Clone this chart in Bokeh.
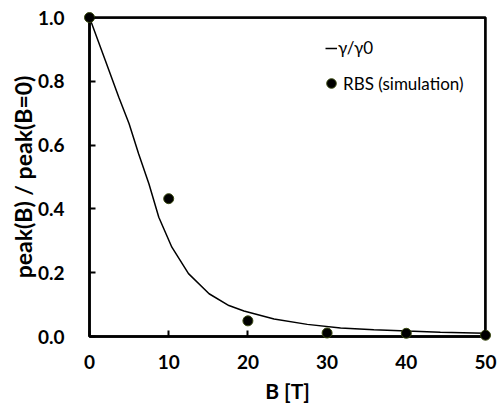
from bokeh.plotting import figure
from bokeh.models import Range1d, SingleIntervalTicker, PrintfTickFormatter, Legend, LegendItem, Span
from bokeh.embed import file_html
from bokeh.resources import INLINE

# gamma/gamma0 curve
curve_B = [0, 2.0, 3.7, 5.0, 6.2, 7.5, 8.75, 10.4, 12.5, 15.1, 17.6, 19.5, 23.3, 27.5, 31.7, 35.9, 40.1, 44.3, 50]
curve_y = [1.0, 0.865, 0.75, 0.667, 0.573, 0.479, 0.374, 0.28, 0.197, 0.134, 0.097, 0.08, 0.055, 0.038, 0.027, 0.021, 0.017, 0.0135, 0.010]

# RBS simulation points
rbs_B = [0, 10, 20, 30, 40, 50]
rbs_y = [1.0, 0.432, 0.049, 0.011, 0.010, 0.004]

x_min, x_max = 0, 50
y_min, y_max = 0, 1
x_ticks_step = 10
y_ticks_step = 0.2
x_label = "B [T]"
y_label = "peak(B) / peak(B=0)"
legend_line = "γ/γ0"
legend_pts = "RBS (simulation)"

FONT = "Lato"

p = figure(width=498, height=406, output_backend="svg", toolbar_location=None,
           x_range=Range1d(x_min, x_max), y_range=Range1d(y_min, y_max),
           min_border_left=89, min_border_right=13, min_border_top=17, min_border_bottom=70)

p.grid.visible = False
p.outline_line_color = "black"
p.outline_line_width = 2.5
p.background_fill_color = "white"
p.border_fill_color = "white"

p.xaxis.ticker = SingleIntervalTicker(interval=x_ticks_step)
p.yaxis.ticker = SingleIntervalTicker(interval=y_ticks_step)
p.yaxis.formatter = PrintfTickFormatter(format="%.1f")

for ax in (p.xaxis, p.yaxis):
    ax.axis_line_width = 2.5
    ax.axis_line_color = "black"
    ax.major_tick_in = 6
    ax.major_tick_out = 0
    ax.major_tick_line_width = 2
    ax.minor_tick_line_color = None
    ax.major_label_text_font = FONT
    ax.major_label_text_font_style = "bold"
    ax.major_label_text_font_size = "19px"
    ax.major_label_text_color = "black"
    ax.axis_label_text_font = FONT
    ax.axis_label_text_font_style = "bold"
    ax.axis_label_text_color = "black"

p.xaxis.axis_label_text_font_size = "21px"
p.yaxis.axis_label_text_font_size = "23px"
p.xaxis.axis_label = x_label
p.yaxis.axis_label = y_label
p.xaxis.major_label_standoff = 14
p.yaxis.major_label_standoff = 21
p.xaxis.axis_label_standoff = 6
p.yaxis.axis_label_standoff = -2

# top and right frame lines
p.add_layout(Span(location=y_max, dimension="width", line_color="black", line_width=2.5, level="overlay"))
p.add_layout(Span(location=x_max, dimension="height", line_color="black", line_width=2.5, level="overlay"))

r_line = p.line(curve_B, curve_y, line_color="black", line_width=1.5)
r_pts = p.scatter(rbs_B, rbs_y, size=10, fill_color="black", line_color="#3a4a10", line_width=1,
                  level="overlay")

def make_legend(items, loc, gw, gh, standoff):
    lg = Legend(items=items, location=loc, orientation="vertical")
    lg.border_line_color = None
    lg.background_fill_alpha = 0
    lg.label_text_font = FONT
    lg.label_text_font_size = "17px"
    lg.label_text_color = "black"
    lg.glyph_width = gw
    lg.glyph_height = gh
    lg.label_height = gh
    lg.label_standoff = standoff
    lg.padding = 0
    lg.margin = 0
    return lg

p.add_layout(make_legend([LegendItem(label=legend_line, renderers=[r_line])], (236, 278), 12, 20, 1))
p.add_layout(make_legend([LegendItem(label=legend_pts, renderers=[r_pts])], (230, 241), 24, 24, -7))

open("out.html", "w").write(file_html(p, INLINE))
